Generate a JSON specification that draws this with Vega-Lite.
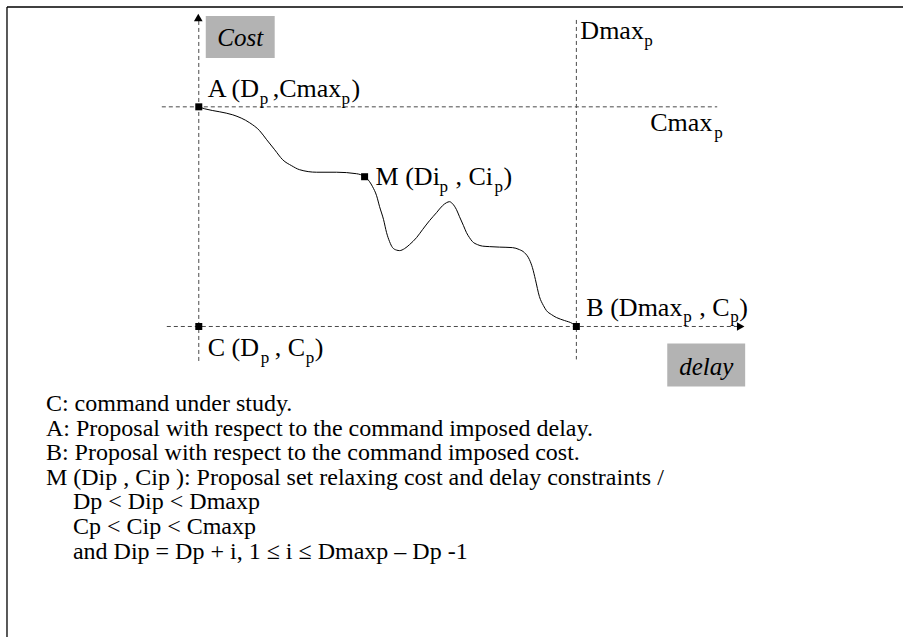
{
  "$schema": "https://vega.github.io/schema/vega-lite/v6.json",
  "width": 904,
  "height": 638,
  "autosize": {"type": "fit", "contains": "padding"},
  "padding": 0,
  "background": "white",
  "config": {"view": {"stroke": null}},
  "datasets": {
    "boxes": [
      {"x": 206, "x2": 275, "y": 16, "y2": 58},
      {"x": 668, "x2": 746, "y": 344, "y2": 387}
    ],
    "frameH": [{"x": 7, "x2": 904, "y": 7}],
    "frameV": [{"x": 7, "y": 7, "y2": 638}],
    "dashH": [
      {"x": 162, "x2": 718, "y": 107},
      {"x": 167, "x2": 740, "y": 327}
    ],
    "dashV": [
      {"x": 199, "y": 21, "y2": 363},
      {"x": 577, "y": 20, "y2": 360}
    ],
    "curve": [
      {"x": 199, "y": 107}, {"x": 205, "y": 109}, {"x": 220, "y": 112}, {"x": 233, "y": 115},
      {"x": 250, "y": 123}, {"x": 260, "y": 131}, {"x": 267, "y": 140}, {"x": 275, "y": 150},
      {"x": 283, "y": 160}, {"x": 292, "y": 166}, {"x": 300, "y": 170}, {"x": 317, "y": 172.5},
      {"x": 337, "y": 172.5}, {"x": 357, "y": 174}, {"x": 365, "y": 177}, {"x": 370, "y": 182},
      {"x": 373, "y": 187}, {"x": 377, "y": 196}, {"x": 380, "y": 207}, {"x": 384, "y": 220},
      {"x": 387, "y": 233}, {"x": 390, "y": 242}, {"x": 393, "y": 248}, {"x": 397, "y": 250.5},
      {"x": 400, "y": 251}, {"x": 405, "y": 249}, {"x": 410, "y": 245}, {"x": 417, "y": 238},
      {"x": 423, "y": 230}, {"x": 430, "y": 221}, {"x": 437, "y": 213}, {"x": 443, "y": 206},
      {"x": 447, "y": 203}, {"x": 450, "y": 202}, {"x": 453, "y": 204}, {"x": 457, "y": 210},
      {"x": 460, "y": 217}, {"x": 464, "y": 226}, {"x": 467, "y": 233}, {"x": 470, "y": 238},
      {"x": 473, "y": 242}, {"x": 478, "y": 245}, {"x": 483, "y": 246.5}, {"x": 490, "y": 247},
      {"x": 500, "y": 247.5}, {"x": 513, "y": 248}, {"x": 520, "y": 250}, {"x": 525, "y": 253},
      {"x": 530, "y": 260}, {"x": 533, "y": 268}, {"x": 536, "y": 280}, {"x": 540, "y": 297},
      {"x": 544, "y": 306}, {"x": 547, "y": 311}, {"x": 552, "y": 315}, {"x": 557, "y": 318},
      {"x": 565, "y": 321}, {"x": 573, "y": 324}, {"x": 577, "y": 327}
    ],
    "arrows": [
      {"x": 198.5, "y": 17.5, "s": "up"},
      {"x": 741.5, "y": 327, "s": "right"}
    ],
    "squares": [
      {"x": 199, "y": 107, "p": "A"},
      {"x": 199, "y": 327, "p": "C"},
      {"x": 577, "y": 327, "p": "B"},
      {"x": 365, "y": 177, "p": "M"}
    ],
    "labels": [
      {"x": 208, "y": 97, "t": "A (D"},
      {"x": 273, "y": 97, "t": ",Cmax"},
      {"x": 352, "y": 97, "t": ")"},
      {"x": 376, "y": 185, "t": "M (Di"},
      {"x": 456, "y": 185, "t": ", Ci"},
      {"x": 504, "y": 185, "t": ")"},
      {"x": 208, "y": 357, "t": "C (D"},
      {"x": 275, "y": 357, "t": ", C"},
      {"x": 315, "y": 357, "t": ")"},
      {"x": 587, "y": 316, "t": "B (Dmax"},
      {"x": 700, "y": 316, "t": ", C"},
      {"x": 740, "y": 316, "t": ")"},
      {"x": 581, "y": 39, "t": "Dmax"},
      {"x": 651, "y": 131, "t": "Cmax"}
    ],
    "subs": [
      {"x": 260, "y": 104, "t": "p"},
      {"x": 342, "y": 104, "t": "p"},
      {"x": 440, "y": 192, "t": "p"},
      {"x": 495, "y": 192, "t": "p"},
      {"x": 261, "y": 364, "t": "p"},
      {"x": 306, "y": 364, "t": "p"},
      {"x": 684, "y": 323, "t": "p"},
      {"x": 731, "y": 323, "t": "p"},
      {"x": 645, "y": 46, "t": "p"},
      {"x": 715, "y": 138, "t": "p"}
    ],
    "italics": [
      {"x": 240.5, "y": 46.5, "t": "Cost"},
      {"x": 707, "y": 376, "t": "delay"}
    ],
    "notes": [
      {"x": 46, "y": 412, "t": "C: command under study."},
      {"x": 46, "y": 437, "t": "A: Proposal with respect to the command imposed delay."},
      {"x": 46, "y": 461, "t": "B: Proposal with respect to the command imposed cost."},
      {"x": 46, "y": 486, "t": "M (Dip , Cip ): Proposal set relaxing cost and delay constraints /"},
      {"x": 73, "y": 510, "t": "Dp < Dip < Dmaxp"},
      {"x": 73, "y": 535, "t": "Cp < Cip < Cmaxp"},
      {"x": 73, "y": 560, "t": "and Dip = Dp + i, 1 ≤ i ≤ Dmaxp – Dp -1"}
    ]
  },
  "encoding": {
    "x": {"field": "x", "type": "quantitative", "scale": {"domain": [0, 904], "nice": false, "zero": false}, "axis": null},
    "y": {"field": "y", "type": "quantitative", "scale": {"domain": [0, 638], "nice": false, "zero": false, "reverse": true}, "axis": null}
  },
  "layer": [
    {
      "data": {"name": "boxes"},
      "mark": {"type": "rect", "fill": "#b3b3b3"},
      "encoding": {"x2": {"field": "x2"}, "y2": {"field": "y2"}}
    },
    {
      "data": {"name": "frameH"},
      "mark": {"type": "rule", "color": "black", "strokeWidth": 1.3},
      "encoding": {"x2": {"field": "x2"}}
    },
    {
      "data": {"name": "frameV"},
      "mark": {"type": "rule", "color": "black", "strokeWidth": 1.3},
      "encoding": {"y2": {"field": "y2"}}
    },
    {
      "data": {"name": "dashH"},
      "mark": {"type": "rule", "color": "#4a4a4a", "strokeWidth": 1, "strokeDash": [4, 3]},
      "encoding": {"x2": {"field": "x2"}}
    },
    {
      "data": {"name": "dashV"},
      "mark": {"type": "rule", "color": "#4a4a4a", "strokeWidth": 1, "strokeDash": [4, 3]},
      "encoding": {"y2": {"field": "y2"}}
    },
    {
      "data": {"name": "curve"},
      "mark": {"type": "line", "color": "black", "strokeWidth": 1, "interpolate": "monotone"},
      "encoding": {}
    },
    {
      "data": {"name": "arrows"},
      "mark": {"type": "point", "filled": true, "color": "black", "size": 75, "opacity": 1},
      "encoding": {
        "shape": {"field": "s", "type": "nominal", "scale": {"domain": ["up", "right"], "range": ["triangle-up", "triangle-right"]}, "legend": null}
      }
    },
    {
      "data": {"name": "squares"},
      "mark": {"type": "square", "filled": true, "color": "black", "size": 49, "opacity": 1},
      "encoding": {}
    },
    {
      "data": {"name": "labels"},
      "mark": {"type": "text", "align": "left", "baseline": "alphabetic", "font": "Liberation Serif", "fontSize": 26, "color": "black"},
      "encoding": {"text": {"field": "t"}}
    },
    {
      "data": {"name": "subs"},
      "mark": {"type": "text", "align": "left", "baseline": "alphabetic", "font": "Liberation Serif", "fontSize": 17, "color": "black"},
      "encoding": {"text": {"field": "t"}}
    },
    {
      "data": {"name": "italics"},
      "mark": {"type": "text", "align": "center", "baseline": "alphabetic", "font": "Liberation Serif", "fontStyle": "italic", "fontSize": 25, "color": "black"},
      "encoding": {"text": {"field": "t"}}
    },
    {
      "data": {"name": "notes"},
      "mark": {"type": "text", "align": "left", "baseline": "alphabetic", "font": "Liberation Serif", "fontSize": 24, "color": "black"},
      "encoding": {"text": {"field": "t"}}
    }
  ]
}
